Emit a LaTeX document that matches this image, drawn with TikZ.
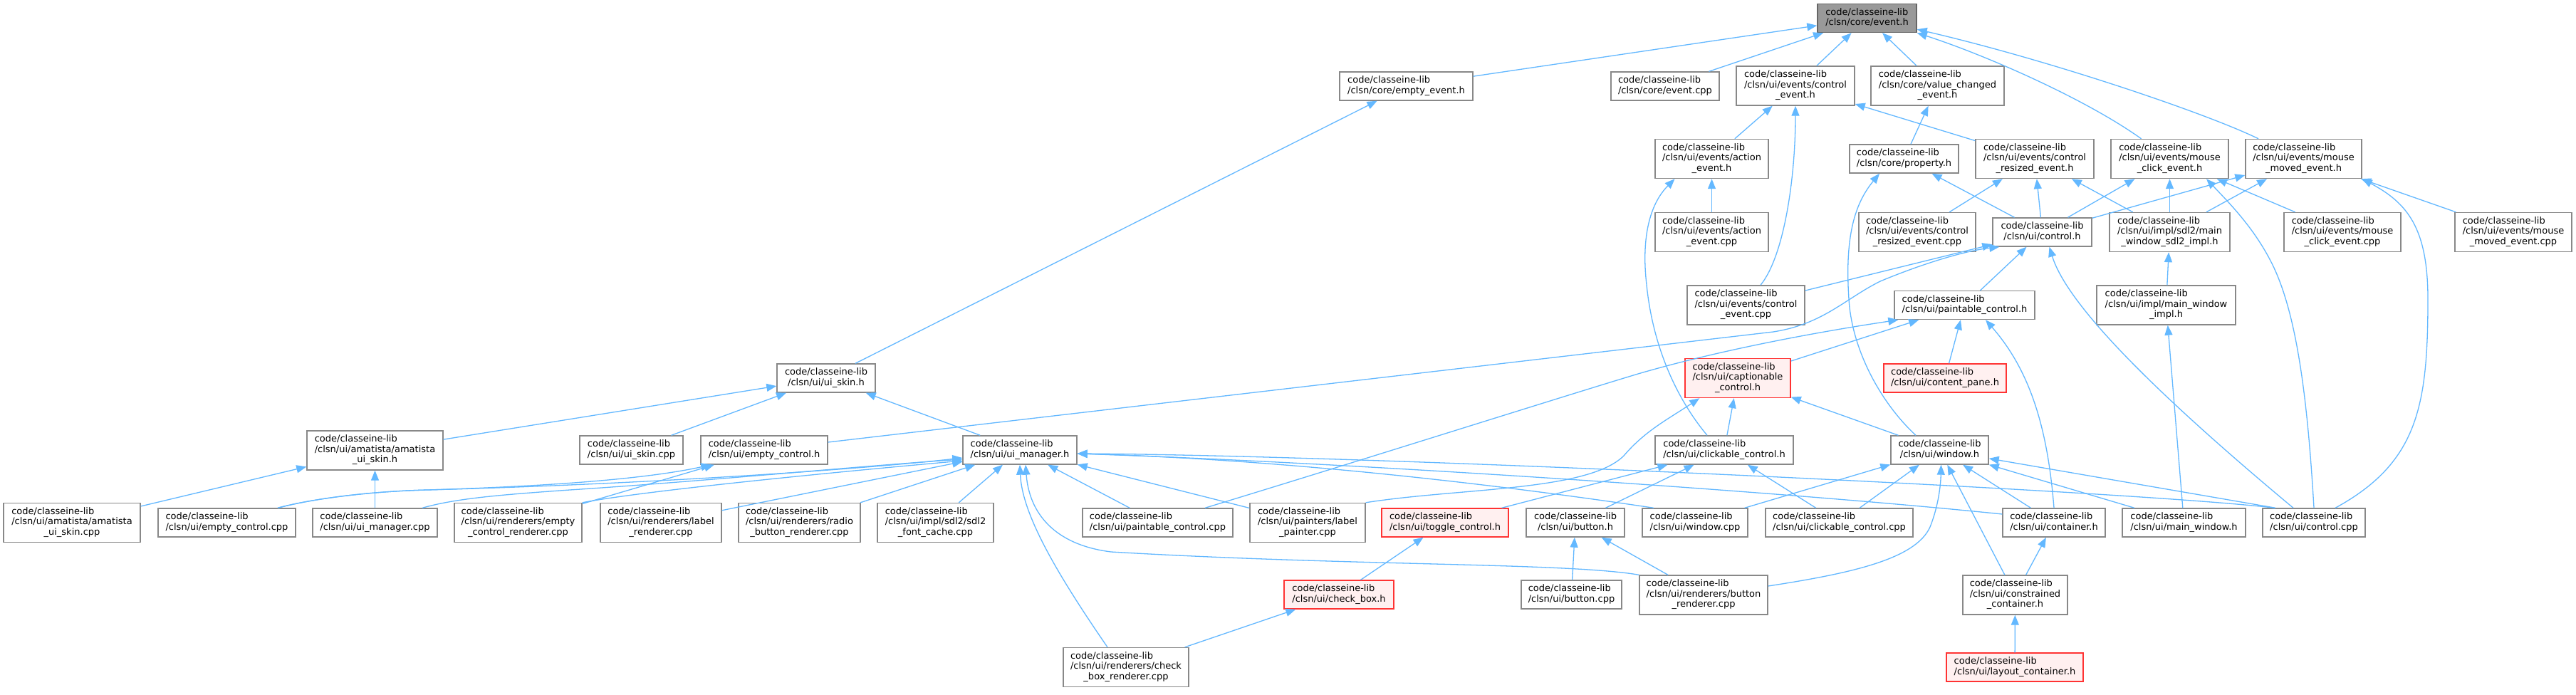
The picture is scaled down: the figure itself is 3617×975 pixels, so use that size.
\documentclass[tikz,border=0pt]{standalone}
\usepackage{fontspec}
\setmainfont{DejaVu Sans}
\usetikzlibrary{arrows.meta}
\definecolor{edgeblue}{HTML}{63B8FF}
\definecolor{boxgray}{HTML}{888888}
\definecolor{rootfill}{HTML}{999999}
\definecolor{rootdraw}{HTML}{666666}
\definecolor{redfill}{HTML}{FFF0F0}
\definecolor{reddraw}{HTML}{FF3333}
\newcommand\lbtwo[1]{\begin{tabular}{@{}l@{}}code/classeine-lib\\\multicolumn{1}{@{}c@{}}{#1}\end{tabular}}
\newcommand\lbthree[2]{\begin{tabular}{@{}l@{}}code/classeine-lib\\#1\\\multicolumn{1}{@{}c@{}}{#2}\end{tabular}}
\begin{document}
\begin{tikzpicture}[x=1pt,y=-1pt,
  box/.style={draw=boxgray, fill=white, line width=1.4pt, inner sep=0pt, minimum height=40pt, text=black,
    font=\fontsize{13pt}{14.5pt}\selectfont},
  box3/.style={box, minimum height=55pt},
  rbox/.style={box, draw=reddraw, fill=redfill},
  rbox3/.style={box3, draw=reddraw, fill=redfill},
  e/.style={draw=edgeblue, line width=1.3pt, -{Triangle[length=14pt,width=11pt]}}]
\useasboundingbox[fill=white] (0,0) rectangle (3617,975);
% row 1-2
\node[box, minimum width=139pt, fill=rootfill, draw=rootdraw] (ev) at (2621.5,25.5) {\lbtwo{/clsn/core/event.h}};
\node[box, minimum width=187pt] (emev) at (1974.5,121) {\lbtwo{/clsn/core/empty\_event.h}};
\node[box, minimum width=152pt] (evcpp) at (2338,121) {\lbtwo{/clsn/core/event.cpp}};
\node[box3, minimum width=166pt] (ctev) at (2521,120.5) {\lbthree{/clsn/ui/events/control}{\_event.h}};
\node[box3, minimum width=187pt] (vcev) at (2720.5,120.5) {\lbthree{/clsn/core/value\_changed}{\_event.h}};
% row 3
\node[box3, minimum width=159pt] (acev) at (2403.5,223) {\lbthree{/clsn/ui/events/action}{\_event.h}};
\node[box, minimum width=153pt] (prop) at (2673.5,223) {\lbtwo{/clsn/core/property.h}};
\node[box3, minimum width=166pt] (crev) at (2857,223) {\lbthree{/clsn/ui/events/control}{\_resized\_event.h}};
\node[box3, minimum width=165pt] (mcev) at (3046.5,223) {\lbthree{/clsn/ui/events/mouse}{\_click\_event.h}};
\node[box3, minimum width=163pt] (mmev) at (3234.5,223) {\lbthree{/clsn/ui/events/mouse}{\_moved\_event.h}};
% row 4
\node[box3, minimum width=159pt] (acevcpp) at (2403.5,326) {\lbthree{/clsn/ui/events/action}{\_event.cpp}};
\node[box3, minimum width=164pt] (crevcpp) at (2692,326) {\lbthree{/clsn/ui/events/control}{\_resized\_event.cpp}};
\node[box, minimum width=139pt] (ctrl) at (2867.5,326) {\lbtwo{/clsn/ui/control.h}};
\node[box3, minimum width=169pt] (sdlimpl) at (3046.5,326) {\lbthree{/clsn/ui/impl/sdl2/main}{\_window\_sdl2\_impl.h}};
\node[box3, minimum width=164pt] (mcevcpp) at (3289,326) {\lbthree{/clsn/ui/events/mouse}{\_click\_event.cpp}};
\node[box3, minimum width=164pt] (mmevcpp) at (3529,326) {\lbthree{/clsn/ui/events/mouse}{\_moved\_event.cpp}};
% row 5
\node[box3, minimum width=165pt] (ctevcpp) at (2451.5,428.5) {\lbthree{/clsn/ui/events/control}{\_event.cpp}};
\node[box, minimum width=197pt] (paint) at (2758.5,428.5) {\lbtwo{/clsn/ui/paintable\_control.h}};
\node[box3, minimum width=195pt] (mwimpl) at (3041.5,428.5) {\lbthree{/clsn/ui/impl/main\_window}{\_impl.h}};
% row 6
\node[box, minimum width=138pt] (skin) at (1160,531) {\lbtwo{/clsn/ui/ui\_skin.h}};
\node[rbox3, minimum width=148pt] (capt) at (2440,531) {\lbthree{/clsn/ui/captionable}{\_control.h}};
\node[rbox, minimum width=172pt] (pane) at (2731,531) {\lbtwo{/clsn/ui/content\_pane.h}};
% row 7
\node[box3, minimum width=191pt] (amah) at (526.5,632.5) {\lbthree{/clsn/ui/amatista/amatista}{\_ui\_skin.h}};
\node[box, minimum width=145pt] (skincpp) at (886.5,632) {\lbtwo{/clsn/ui/ui\_skin.cpp}};
\node[box, minimum width=178pt] (emctl) at (1073,632) {\lbtwo{/clsn/ui/empty\_control.h}};
\node[box, minimum width=160pt] (uim) at (1432,632) {\lbtwo{/clsn/ui/ui\_manager.h}};
\node[box, minimum width=194pt] (click) at (2421,632) {\lbtwo{/clsn/ui/clickable\_control.h}};
\node[box, minimum width=137pt] (win) at (2723.5,632) {\lbtwo{/clsn/ui/window.h}};
% row 8
\node[box3, minimum width=192pt] (amacpp) at (101,734) {\lbthree{/clsn/ui/amatista/amatista}{\_ui\_skin.cpp}};
\node[box, minimum width=193pt] (emctlcpp) at (318.5,734) {\lbtwo{/clsn/ui/empty\_control.cpp}};
\node[box, minimum width=175pt] (uimcpp) at (526.5,734) {\lbtwo{/clsn/ui/ui\_manager.cpp}};
\node[box3, minimum width=179pt] (emrend) at (727.5,734) {\lbthree{/clsn/ui/renderers/empty}{\_control\_renderer.cpp}};
\node[box3, minimum width=170pt] (lblrend) at (928,734) {\lbthree{/clsn/ui/renderers/label}{\_renderer.cpp}};
\node[box3, minimum width=171pt] (radio) at (1122.5,734) {\lbthree{/clsn/ui/renderers/radio}{\_button\_renderer.cpp}};
\node[box3, minimum width=163pt] (font) at (1313.5,734) {\lbthree{/clsn/ui/impl/sdl2/sdl2}{\_font\_cache.cpp}};
\node[box, minimum width=211pt] (paintcpp) at (1625.5,734) {\lbtwo{/clsn/ui/paintable\_control.cpp}};
\node[box3, minimum width=162pt] (lblpaint) at (1836,734) {\lbthree{/clsn/ui/painters/label}{\_painter.cpp}};
\node[rbox, minimum width=178pt] (toggle) at (2029,734) {\lbtwo{/clsn/ui/toggle\_control.h}};
\node[box, minimum width=138pt] (btn) at (2212,734) {\lbtwo{/clsn/ui/button.h}};
\node[box, minimum width=148pt] (wincpp) at (2380,734) {\lbtwo{/clsn/ui/window.cpp}};
\node[box, minimum width=207pt] (clickcpp) at (2582.5,734) {\lbtwo{/clsn/ui/clickable\_control.cpp}};
\node[box, minimum width=144pt] (cont) at (2884,734) {\lbtwo{/clsn/ui/container.h}};
\node[box, minimum width=173pt] (mainwin) at (3066.5,734) {\lbtwo{/clsn/ui/main\_window.h}};
\node[box, minimum width=144pt] (ctrlcpp) at (3249,734) {\lbtwo{/clsn/ui/control.cpp}};
% row 9
\node[rbox, minimum width=154pt] (check) at (1880,835) {\lbtwo{/clsn/ui/check\_box.h}};
\node[box, minimum width=141pt] (btncpp) at (2206.5,835) {\lbtwo{/clsn/ui/button.cpp}};
\node[box3, minimum width=180pt] (btnrend) at (2392,835.5) {\lbthree{/clsn/ui/renderers/button}{\_renderer.cpp}};
\node[box3, minimum width=147pt] (constr) at (2829.5,835.5) {\lbthree{/clsn/ui/constrained}{\_container.h}};
% row 10
\node[box3, minimum width=176pt] (checkrend) at (1581,937) {\lbthree{/clsn/ui/renderers/check}{\_box\_renderer.cpp}};
\node[rbox, minimum width=192pt] (layout) at (2829,937) {\lbtwo{/clsn/ui/layout\_container.h}};
% edges
\draw[e] (emev) -- (ev);
\draw[e] (evcpp) -- (ev);
\draw[e] (ctev) -- (ev);
\draw[e] (vcev) -- (ev);
\draw[e] ([xshift=-40pt]mcev.north) .. controls (2930,140) and (2790,78) .. (ev.south east);
\draw[e] ([xshift=-63.5pt]mmev.north) .. controls (3100,160) and (2880,85) .. ([yshift=5pt]ev.south east);
\draw[e] (acev) -- (ctev);
\draw[e] ([xshift=20.5pt]ctevcpp.north) .. controls (2505,360) and (2521,250) .. (ctev.south);
\draw[e] (crev) -- (ctev);
\draw[e] (prop) -- (vcev);
\draw[e] (acevcpp) -- (acev);
\draw[e] ([xshift=-24pt]click.north) .. controls (2350,555) and (2320,480) .. (2312,400) .. controls (2304,330) and (2318,285) .. ([xshift=-52pt]acev.south);
\draw[e] (ctrl) -- (prop);
\draw[e] ([xshift=-33.5pt]win.north) .. controls (2640,565) and (2600,490) .. (2596,420) .. controls (2590,330) and (2605,285) .. ([xshift=-34.5pt]prop.south);
\draw[e] (crevcpp) -- (crev);
\draw[e] (ctrl) -- (crev);
\draw[e] (sdlimpl) -- (crev);
\draw[e] (ctrl) -- (mcev);
\draw[e] (sdlimpl) -- (mcev);
\draw[e] (mcevcpp) -- (mcev);
\draw[e] (ctrlcpp.north) .. controls (3240,560) and (3225,440) .. (3190,370) .. controls (3165,320) and (3130,285) .. ([xshift=51.5pt]mcev.south);
\draw[e] (ctrl) -- (mmev);
\draw[e] (sdlimpl) -- (mmev);
\draw[e] (mmevcpp) -- (mmev);
\draw[e] ([xshift=30pt]ctrlcpp.north) .. controls (3395,650) and (3409,570) .. (3409,420) .. controls (3409,320) and (3380,285) .. (mmev.south east);
\draw[e] (ctevcpp) -- (ctrl);
\draw[e] (paint) -- (ctrl);
\draw[e] ([xshift=-29pt]ctrlcpp.north) .. controls (3000,530) and (2900,420) .. ([xshift=10pt]ctrl.south);
\draw[e] ([yshift=11pt]emctl.east) -- (2490,466) .. controls (2560,455) and (2590,420) .. (2640,395) .. controls (2700,370) and (2760,352) .. ([xshift=10pt]ctrl.south west);
\draw[e] ([xshift=66.5pt]paintcpp.north) .. controls (1900,650) and (2200,555) .. (2300,525) .. controls (2420,490) and (2560,465) .. ([xshift=6pt]paint.south west);
\draw[e] (capt) -- (paint);
\draw[e] (pane) -- (paint);
\draw[e] (cont.north) .. controls (2875,600) and (2850,520) .. ([xshift=29.5pt]paint.south);
\draw[e] (click) -- (capt);
\draw[e] (win) -- (capt);
\draw[e] (lblpaint.north east) .. controls (2050,685) and (2230,690) .. (2280,640) .. controls (2310,605) and (2340,590) .. ([xshift=21pt]capt.south west);
\draw[e] (toggle) -- (click);
\draw[e] (btn) -- (click);
\draw[e] (clickcpp) -- (click);
\draw[e] (wincpp) -- (win);
\draw[e] (clickcpp) -- (win);
\draw[e] (cont) -- (win);
\draw[e] (mainwin) -- (win);
\draw[e] ([xshift=-54pt]ctrlcpp.north) -- (win);
\draw[e] (constr) -- (win);
\draw[e] ([yshift=12.5pt]btnrend.east) .. controls (2600,805) and (2690,785) .. (2710,740) .. controls (2722,710) and (2725,680) .. ([xshift=2pt]win.south);
\draw[e] (mwimpl) -- (sdlimpl);
\draw[e] (mainwin) -- (mwimpl);
\draw[e] (skin) -- (emev);
\draw[e] (amah) -- (skin);
\draw[e] (skincpp) -- (skin);
\draw[e] (uim) -- (skin);
\draw[e] (amacpp) -- (amah);
\draw[e] (uimcpp) -- (amah);
\draw[e] ([xshift=71.5pt]emctlcpp.north) .. controls (440,700) and (520,690) .. (600,688) .. controls (800,682) and (920,670) .. ([xshift=15pt]emctl.south west);
\draw[e] (emrend) -- (emctl);
\draw[e] ([xshift=71.5pt]emctlcpp.north) .. controls (440,700) and (520,690) .. (600,688) .. controls (900,680) and (1200,660) .. ([yshift=-11pt]uim.west);
\draw[e] ([xshift=66.5pt]uimcpp.north) .. controls (640,700) and (700,695) .. (800,688) .. controls (1000,675) and (1200,655) .. ([yshift=-13pt]uim.west);
\draw[e] (emrend.north east) .. controls (900,690) and (1150,665) .. ([yshift=-15pt]uim.west);
\draw[e] (lblrend) -- (uim);
\draw[e] (radio) -- (uim);
\draw[e] (font) -- (uim);
\draw[e] (paintcpp) -- (uim);
\draw[e] (lblpaint) -- (uim);
\draw[e] ([xshift=-26pt]checkrend.north) .. controls (1480,800) and (1435,720) .. (uim.south);
\draw[e] (btnrend.north west) .. controls (2200,790) and (1900,795) .. (1560,775) .. controls (1480,765) and (1445,720) .. ([xshift=8pt]uim.south);
\draw[e] ([xshift=-58pt]wincpp.north) .. controls (2100,680) and (1800,645) .. ([yshift=-5pt]uim.east);
\draw[e] ([yshift=12pt]cont.west) .. controls (2500,690) and (1900,650) .. ([yshift=-5pt]uim.east);
\draw[e] ([xshift=-55pt]ctrlcpp.north) .. controls (3000,690) and (1950,640) .. ([yshift=-5pt]uim.east);
\draw[e] (check) -- (toggle);
\draw[e] (checkrend) -- (check);
\draw[e] (btncpp) -- (btn);
\draw[e] (btnrend) -- (btn);
\draw[e] (constr) -- (cont);
\draw[e] (layout) -- (constr);
\end{tikzpicture}
\end{document}
